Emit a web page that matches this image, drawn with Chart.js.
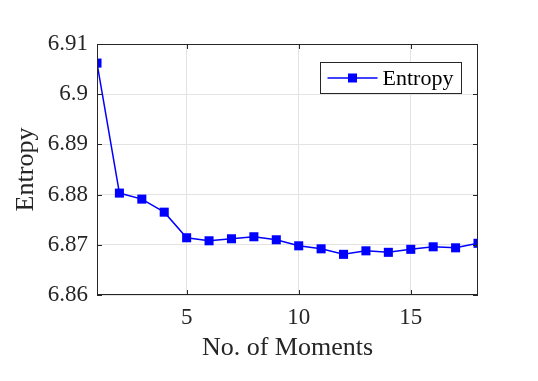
<!DOCTYPE html>
<html><head><meta charset="utf-8">
<script src="https://cdn.jsdelivr.net/npm/chart.js@4/dist/chart.umd.min.js"></script>
<style>html,body{margin:0;padding:0;background:#fff}</style>
</head><body>
<canvas id="c" width="538" height="381"></canvas>
<script>
const moments = [1,2,3,4,5,6,7,8,9,10,11,12,13,14,15,16,17,18];
const entropy = [6.9062,6.8803,6.8791,6.8765,6.8714,6.8708,6.8712,6.8716,6.8710,6.8698,6.8692,6.8681,6.8688,6.8685,6.8691,6.8696,6.8694,6.8703];
const xTicks = [5,10,15];
const yTicks = [6.86,6.87,6.88,6.89,6.9,6.91];
const yTickLabels = ['6.86','6.87','6.88','6.89','6.9','6.91'];
const seriesLabel = 'Entropy';
const xTitle = 'No. of Moments';
const yTitle = 'Entropy';

const FONT = "'Liberation Serif', 'Times New Roman', serif";
const AX = '#262626';
const BLUE = '#0000ff';

const boxPlugin = {
  id: 'boxPlugin',
  afterDraw(chart) {
    const ctx = chart.ctx, a = chart.chartArea;
    const xs = chart.scales.x, ys = chart.scales.y;
    ctx.save();
    ctx.strokeStyle = AX; ctx.lineWidth = 1;
    ctx.strokeRect(a.left + 0.5, a.top + 0.5, a.right - a.left - 1, a.bottom - a.top - 1);
    const L = 5;
    ctx.beginPath();
    xs.ticks.forEach(t => {
      const p = Math.round(xs.getPixelForValue(t.value)) + 0.5;
      ctx.moveTo(p, a.bottom); ctx.lineTo(p, a.bottom - L);
      ctx.moveTo(p, a.top); ctx.lineTo(p, a.top + L);
    });
    ys.ticks.forEach(t => {
      const p = Math.round(ys.getPixelForValue(t.value)) + 0.5;
      ctx.moveTo(a.left, p); ctx.lineTo(a.left + L, p);
      ctx.moveTo(a.right, p); ctx.lineTo(a.right - L, p);
    });
    ctx.stroke();
    // legend
    const bw = 141, bh = 31;
    const bx = Math.round(a.right - 17 - bw) + 0.5, by = Math.round(a.top + 18) + 0.5;
    ctx.fillStyle = '#fff';
    ctx.fillRect(bx, by, bw, bh);
    ctx.strokeStyle = AX;
    ctx.strokeRect(bx, by, bw, bh);
    const cy = by + bh / 2;
    ctx.strokeStyle = BLUE; ctx.lineWidth = 1.5;
    ctx.beginPath(); ctx.moveTo(bx + 7, cy); ctx.lineTo(bx + 57, cy); ctx.stroke();
    ctx.fillStyle = BLUE;
    ctx.fillRect(bx + 32 - 4.5, cy - 4.5, 9, 9);
    ctx.fillStyle = '#000';
    ctx.font = '22px ' + FONT;
    ctx.textBaseline = 'middle'; ctx.textAlign = 'left';
    ctx.fillText(chart.data.datasets[0].label, bx + 62, cy + 1);
    ctx.restore();
  }
};

new Chart(document.getElementById('c'), {
  type: 'line',
  data: {
    datasets: [{
      label: seriesLabel,
      data: moments.map((m, i) => ({x: m, y: entropy[i]})),
      borderColor: BLUE,
      backgroundColor: BLUE,
      borderWidth: 1.5,
      pointStyle: 'rect',
      pointRadius: 6.4,
      pointHoverRadius: 6.4,
      pointBorderWidth: 0,
      tension: 0
    }]
  },
  options: {
    responsive: false,
    animation: false,
    devicePixelRatio: 1,
    layout: { padding: { left: 0, top: 44, right: 60, bottom: 0 } },
    plugins: { legend: { display: false }, tooltip: { enabled: false } },
    scales: {
      x: {
        type: 'linear', min: 1, max: 18,
        afterBuildTicks: s => { s.ticks = xTicks.map(v => ({value: v})); },
        afterFit: s => { s.height = 86; },
        grid: { color: '#e3e3e3', drawTicks: false },
        border: { display: false },
        ticks: { color: AX, font: { family: FONT, size: 23 }, padding: 9, maxRotation: 0,
                 callback: v => String(v) },
        title: { display: true, text: xTitle, color: AX, font: { family: FONT, size: 26 }, padding: { top: 0, bottom: 17 } }
      },
      y: {
        type: 'linear', min: 6.86, max: 6.91,
        afterBuildTicks: s => { s.ticks = yTicks.map(v => ({value: v})); },
        afterFit: s => { s.width = 97; },
        grid: { color: '#e3e3e3', drawTicks: false },
        border: { display: false },
        ticks: { color: AX, font: { family: FONT, size: 23 }, padding: 9,
                 callback: (v, i) => yTickLabels[yTicks.findIndex(t => Math.abs(t - v) < 1e-9)] },
        title: { display: true, text: yTitle, color: AX, font: { family: FONT, size: 26 }, padding: { top: 11, bottom: 0 } }
      }
    }
  },
  plugins: [boxPlugin]
});
</script>
</body></html>
